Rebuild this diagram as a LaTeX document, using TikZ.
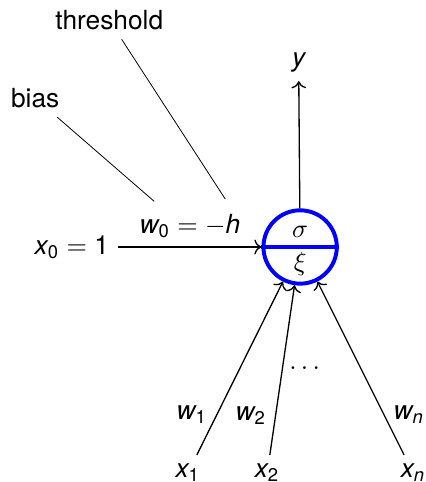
\documentclass[tikz,border=0pt]{standalone}
\usepackage{amsmath}
\usepackage{fontspec}
\setmainfont{TeX Gyre Heros}
\usetikzlibrary{arrows.meta, positioning}
\tikzset{
  neuron/.style={circle, draw=blue, line width=1.5pt, minimum size=0.98cm, inner sep=0pt},
  wire/.style={->, line width=0.5pt},
  pointer/.style={line width=0.3pt},
}
\begin{document}
\begin{tikzpicture}
  \useasboundingbox (-4.01,-3.14) rectangle (1.67,3.30);
  % the unit
  \node[neuron] (neuron) at (0,0) {};
  \draw[blue, line width=1.5pt] (neuron.west) -- (neuron.east);
  \node (sigma) at (0,0.2) {$\sigma$};
  \node (xi) at (0,-0.23) {$\xi$};
  % output
  \node (y) at (-0.02,2.47) {$\mathit{y}$};
  \draw[wire] (neuron) -- (y);
  % bias input
  \node (x0) at (-3.05,0) {$\mathit{x}_{\mathrm{0}} = \mathrm{1}$};
  \draw[wire] (x0) -- node[above] (w0) {$\mathit{w}_{\mathrm{0}} = -\mathit{h}$} (neuron);
  \node (bias) at (-3.54,1.99) {bias};
  \node (threshold) at (-2.55,3.03) {threshold};
  \coordinate (bias-end) at (-1.95,0.61);
  \coordinate (thr-end) at (-1.00,0.64);
  \draw[pointer] (bias) -- (bias-end);
  \draw[pointer] (threshold) -- (thr-end);
  % inputs
  \node (x1) at (-1.50,-3.02) {$\mathit{x}_{\mathrm{1}}$};
  \node (x2) at (-0.44,-3.02) {$\mathit{x}_{\mathrm{2}}$};
  \node (xn) at (1.51,-3.02) {$\mathit{x}_{\mathit{n}}$};
  \node (dots) at (0.09,-1.62) {$\dots$};
  \draw[wire] (x1) -- node[pos=0.23, left] (w1) {$\mathit{w}_{\mathrm{1}}$} (neuron);
  \draw[wire] (x2) -- node[pos=0.23, left] (w2) {$\mathit{w}_{\mathrm{2}}$} (neuron);
  \draw[wire] (xn) -- node[pos=0.23, right] (wn) {$\mathit{w}_{\mathit{n}}$} (neuron);
\end{tikzpicture}
\end{document}
